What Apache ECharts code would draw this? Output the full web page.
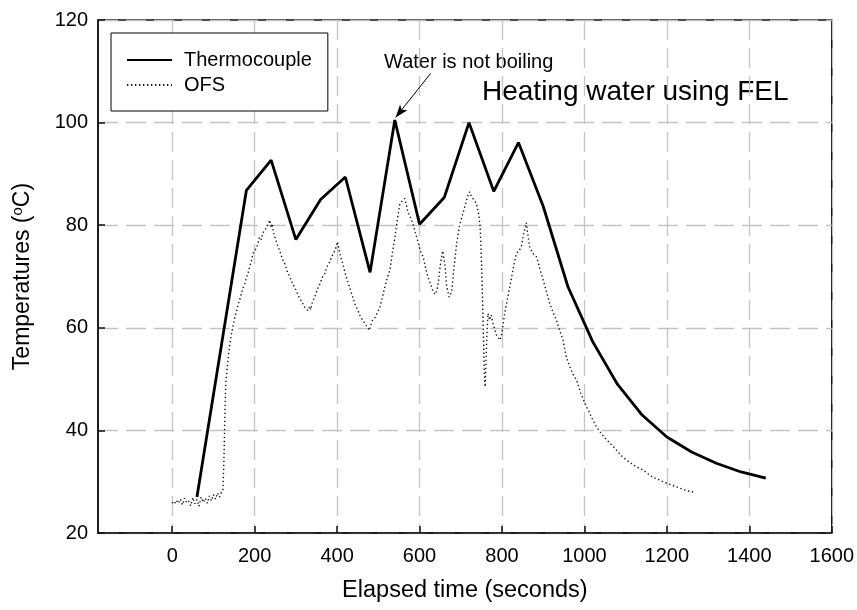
<!DOCTYPE html>
<html>
<head>
<meta charset="utf-8">
<script src="https://cdn.jsdelivr.net/npm/echarts@6/dist/echarts.min.js"></script>
<style>
  html, body { margin: 0; padding: 0; background: #fff; }
  #chart { width: 857px; height: 610px; }
</style>
</head>
<body>
<div id="chart"></div>
<script>
// tick values on the time axis (axis itself starts at -180)
var xTicks = [0, 200, 400, 600, 800, 1000, 1200, 1400, 1600];

// thermocouple readings, one per minute
var tcTimes = [60, 180, 240, 300, 360, 420, 480, 540, 600, 660, 720, 780, 840, 900, 960, 1020, 1080, 1140, 1200, 1260, 1320, 1380, 1440];
var tcTemps = [27, 86.8, 92.7, 77.2, 85, 89.4, 70.8, 100.5, 80.2, 85.4, 100, 86.6, 96.1, 83.7, 68, 57.3, 49, 43, 38.7, 35.8, 33.6, 31.9, 30.7];

// optical fibre sensor trace
var ofsTimes = [0, 5, 10, 15, 20, 25, 30, 35, 40, 45, 50, 55, 60, 65, 70, 75, 80, 85, 90, 95,
  100, 105, 110, 115, 120, 123, 125, 126, 127, 128, 130, 133, 136, 140, 144, 148, 152, 156, 160, 164,
  168, 172, 176, 180, 184, 188, 192, 196, 200, 204, 208, 212, 216, 220, 225, 230, 234, 237, 240, 243,
  246, 249, 255, 261, 267, 273, 279, 285, 291, 297, 303, 309, 315, 320, 325, 330, 333, 336, 340, 346,
  352, 358, 364, 370, 376, 382, 388, 394, 398, 401, 404, 408, 414, 420, 426, 432, 438, 444, 450, 456,
  462, 468, 474, 479, 482, 486, 492, 498, 504, 510, 516, 522, 528, 534, 540, 546, 552, 558, 564, 568,
  572, 578, 584, 590, 596, 602, 609, 615, 621, 627, 633, 638, 642, 646, 650, 656, 662, 666, 672, 678,
  684, 690, 698, 706, 714, 718, 722, 726, 732, 738, 744, 747, 749, 751, 753, 755, 757, 759, 761, 763,
  766, 770, 774, 778, 783, 787, 791, 795, 799, 805, 811, 819, 827, 835, 841, 847, 853, 859, 863, 867,
  875, 884, 892, 900, 908, 916, 924, 932, 940, 948, 956, 964, 972, 981, 991, 1001, 1010, 1019, 1029, 1040,
  1050, 1062, 1075, 1088, 1102, 1115, 1128, 1142, 1155, 1168, 1183, 1196, 1210, 1223, 1236, 1250, 1264];
var ofsTemps = [26.0, 25.6, 26.4, 25.8, 26.6, 25.5, 26.8, 25.9, 26.2, 25.3, 26.9, 25.7, 26.5, 25.2, 27.0, 26.0, 26.8, 25.8, 27.2, 26.3,
  27.5, 26.6, 27.8, 27.0, 28.0, 28.4, 33, 36.2, 40, 44, 49.2, 52, 54.3, 57, 58.9, 60.5, 62.1, 63.2, 64.5, 65.5,
  66.7, 67.8, 68.5, 69.8, 70.6, 72, 73, 74.5, 74.2, 75.5, 76.5, 77.7, 77.2, 78.5, 79, 79.8, 80.5, 81, 79.5, 80.3,
  78.5, 77.7, 76.2, 75.0, 73.5, 72.5, 71.0, 70.0, 68.8, 67.9, 66.8, 65.8, 65.0, 64.2, 63.6, 63.4, 64.2, 63.5, 65.0, 66.0,
  67.5, 68.5, 69.8, 70.6, 72.0, 72.8, 74.0, 75.0, 75.8, 76.8, 75.5, 74.0, 72.5, 70.5, 69.0, 67.5, 66.0, 64.5, 63.5, 62.3,
  61.5, 60.8, 60.0, 59.5, 60.6, 61.5, 62.0, 63.0, 64.0, 66.0, 68.0, 69.8, 71.2, 74.5, 77.5, 81.0, 84.0, 84.8, 85.2, 84.0,
  82.5, 81.5, 80.3, 78.5, 76.8, 75.0, 73.8, 71.5, 69.8, 68.5, 67.0, 66.5, 67.3, 69.0, 72.0, 75.0, 72.0, 68.0, 66.0, 67.0,
  72.0, 76.5, 80.3, 82.5, 84.8, 86.0, 86.5, 85.5, 85.0, 84.2, 82.0, 79.5, 76.0, 71.0, 65.0, 58.5, 52.0, 48.5, 52.0, 58.0,
  62.8, 61.5, 62.5, 60.9, 59.5, 58.5, 58.8, 57.6, 58.5, 62.0, 64.7, 68.0, 71.5, 74.5, 75.0, 75.8, 78.5, 80.5, 78.0, 75.8,
  74.5, 73.8, 71.5, 69.3, 67.0, 64.7, 63.0, 61.5, 59.5, 57.6, 54.3, 52.5, 51.0, 49.8, 47.3, 45.3, 43.8, 42.3, 40.7, 39.5,
  38.5, 37.5, 36.4, 35.2, 34.2, 33.5, 32.8, 32.3, 31.5, 30.8, 30.3, 29.8, 29.4, 29.0, 28.6, 28.2, 28.0];

function pairs(xs, ys) {
  var out = [];
  for (var i = 0; i < xs.length; i++) out.push([xs[i], ys[i]]);
  return out;
}

var font = '"Liberation Sans", Arial, sans-serif';
var gridLine = { show: true, lineStyle: { color: '#c4c4c4', width: 1.3, type: [20, 8] } };

var chart = echarts.init(document.getElementById('chart'));

var option = {
  animation: false,
  backgroundColor: '#fff',
  textStyle: { fontFamily: font, color: '#000' },
  grid: {
    left: 98, right: 25, top: 20, bottom: 77,
    show: true, borderColor: '#111', borderWidth: 1.5, backgroundColor: 'transparent'
  },
  legend: {
    data: ['Thermocouple', 'OFS'],
    orient: 'vertical',
    left: 111, top: 33,
    padding: [17, 16, 16, 15],
    itemWidth: 45, itemHeight: 14, itemGap: 5,
    borderColor: '#000', borderWidth: 1,
    backgroundColor: '#fff',
    // hide the marker dot, keep only the line sample
    itemStyle: { opacity: 0, borderWidth: 0 },
    textStyle: { fontFamily: font, fontSize: 20, lineHeight: 20, color: '#000', padding: [0, 0, 0, 7] }
  },
  xAxis: {
    type: 'value',
    min: -180, max: 1600,
    name: 'Elapsed time (seconds)',
    nameLocation: 'middle',
    nameGap: 46,
    nameTextStyle: { fontFamily: font, fontSize: 23.5, color: '#000' },
    axisLine: { show: true, onZero: false, lineStyle: { color: '#111', width: 1.5 } },
    axisTick: { show: true, inside: true, length: 7, customValues: xTicks, lineStyle: { color: '#111', width: 1.5 } },
    axisLabel: {
      customValues: xTicks, fontFamily: font, fontSize: 20, color: '#000', margin: 13,
      formatter: function (v) { return String(v); }
    },
    splitLine: gridLine
  },
  yAxis: {
    type: 'value',
    min: 20, max: 120, interval: 20,
    name: '{a|Temperatures (}{s|o}{a|C)}',
    nameLocation: 'middle',
    nameGap: 62,
    nameTextStyle: {
      rich: {
        a: { fontFamily: font, fontSize: 23, color: '#000' },
        s: { fontFamily: font, fontSize: 15, color: '#000', padding: [0, 0, 11, 0] }
      }
    },
    axisLine: { show: true, onZero: false, lineStyle: { color: '#111', width: 1.5 } },
    axisTick: { show: true, inside: true, length: 7, lineStyle: { color: '#111', width: 1.5 } },
    axisLabel: { fontFamily: font, fontSize: 20, color: '#000', margin: 10 },
    splitLine: gridLine
  },
  series: [
    {
      name: 'Thermocouple',
      type: 'line',
      data: pairs(tcTimes, tcTemps),
      symbol: 'none',
      lineStyle: { color: '#000', width: 2.8 },
      itemStyle: { color: '#000' },
      z: 3,
      markLine: {
        silent: true,
        symbol: ['none', 'arrow'],
        symbolSize: [7, 13],
        label: { show: false },
        lineStyle: { color: '#000', width: 1, type: 'solid' },
        data: [[{ coord: [627, 109.6] }, { coord: [542, 101] }]]
      }
    },
    {
      name: 'OFS',
      type: 'line',
      data: pairs(ofsTimes, ofsTemps),
      symbol: 'none',
      lineStyle: { color: '#1a1a1a', width: 1.4, type: [1.4, 2.6] },
      itemStyle: { color: '#1a1a1a' },
      z: 2
    }
  ],
  graphic: [
    {
      type: 'text', x: 384, y: 62,
      style: { text: 'Water is not boiling', font: '20px ' + font, fill: '#000', verticalAlign: 'middle' }
    },
    {
      type: 'text', x: 482, y: 92.5,
      style: { text: 'Heating water using FEL', font: '28px ' + font, fill: '#000', verticalAlign: 'middle' }
    }
  ]
};

chart.setOption(option);
</script>
</body>
</html>
